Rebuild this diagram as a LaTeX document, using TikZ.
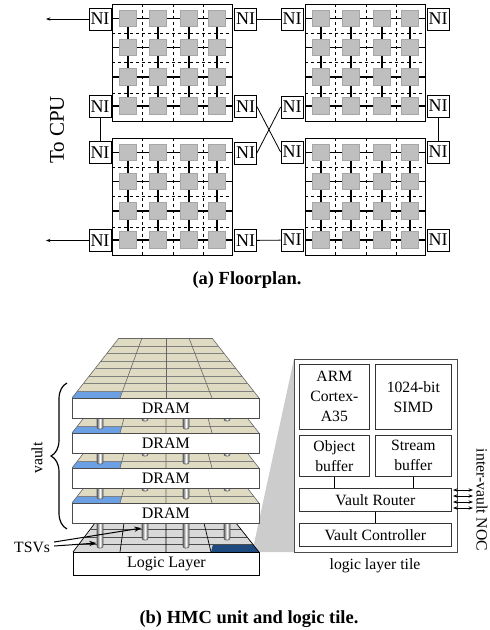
\documentclass[tikz,border=0pt]{standalone}
\usepackage{fontspec}
\setmainfont{Liberation Serif}
\usetikzlibrary{arrows.meta,decorations.pathreplacing}
\definecolor{dietan}{HTML}{DFDBC3}
\definecolor{bankblue}{HTML}{6CA0E4}
\definecolor{tiledark}{HTML}{1F4A80}
\definecolor{shadegray}{HTML}{CCCCCC}
\tikzset{
  ni/.style={draw,line width=0.8pt,fill=white,minimum width=22pt,minimum height=22pt,inner sep=0pt,font=\fontsize{18}{18}\selectfont},
  router/.style={draw=black!35,line width=0.6pt,fill=black!25,minimum size=16.5pt,inner sep=0pt},
  tile/.style={draw,line width=0.9pt,fill=white,minimum width=120pt,minimum height=117pt,inner sep=0pt},
  layer/.style={draw=black!70,line width=0.9pt,fill=white,minimum width=187pt,minimum height=20pt,inner sep=0pt,font=\fontsize{16}{16}\selectfont},
  block/.style={draw=black!80,line width=0.7pt,inner sep=0pt,align=center,font=\fontsize{15.7}{20}\selectfont},
  link/.style={line width=0.8pt},
  tsv/.style={draw=black!65,line width=0.6pt,left color=black!60,right color=black!60,middle color=white,rounded corners=2pt},
  noc/.style={{Stealth[length=4.5pt]}-{Stealth[length=4.5pt]},line width=0.9pt},
  lbl/.style={inner sep=0pt,font=\fontsize{15.7}{18}\selectfont},
  captext/.style={inner sep=0pt,font=\fontsize{18.5}{20}\selectfont\bfseries}
}
% one tile of the floorplan, #1 = left edge, #2 = top edge
\newcommand{\meshtile}[3]{
  \node[tile,anchor=north west] (#3) at (#1,#2) {};
  \begin{scope}[shift={(#1,#2)}]
    \foreach \dx/\w in {30/0.7pt,61/1pt,91/0.7pt} \draw[dashed,line width=\w] (\dx,0) -- (\dx,117);
    \foreach \dy in {29,58,89} \draw[dashed,line width=0.8pt] (0,\dy) -- (120,\dy);
    \foreach \dy in {14.5,43.5,73,102} \draw[line width=1.1pt] (0,\dy) -- (120,\dy);
    \foreach \dx in {16,46,77,105} \draw[line width=1.1pt] (\dx,14.5) -- (\dx,102);
    \foreach \dx in {16,46,77,105} \foreach \dy in {14.5,43.5,73,102}
      \node[router] at (\dx,\dy) {};
  \end{scope}
}
\begin{document}
\begin{tikzpicture}[x=1pt,y=-1pt]
\useasboundingbox (0,0) rectangle (490,630);
% (a)
\meshtile{112}{4}{tileA}
\meshtile{305}{4}{tileB}
\meshtile{112}{138}{tileC}
\meshtile{305}{138}{tileD}
\foreach \name/\px/\py in {na/100/19,nb/245.5/19,nc/100/106.5,nd/245.5/106.5,ne/100/152.5,nf/245.5/153,ng/100/240.5,nh/245.5/240.5,
  ni/292/19,nj/438/19,nk/292/107,nl/438/106,nm/292/152,nn/438/152,no/292/240,np/438/240}
  \node[ni] (\name) at (\px,\py) {NI};
\coordinate (outa) at (46,19);
\coordinate (outb) at (46,240.5);
\draw[-{Stealth[length=4.5pt]},link] (na) -- (outa);
\draw[-{Stealth[length=4.5pt]},link] (ng) -- (outb);
\draw[link] (nc) -- (ne);
\draw[link] (nl) -- (nn);
\draw[link] (nb) -- (ni);
\draw[link] (nh) -- (no);
\draw[link] (nd.east) -- (nm.west);
\draw[link] (nf.east) -- (nk.west);
\node[rotate=90,inner sep=0pt,font=\fontsize{21}{21}\selectfont] (cpu) at (57,130) {To CPU};
\node[captext] (capa) at (247,280) {(a) Floorplan.};
% (b)
\fill[shadegray] (254,544) -- (294,359) -- (294,552) -- (259,552) -- cycle;
% top layer of the stack
\fill[dietan] (119,338) -- (212,338) -- (259,398) -- (72,398) -- cycle;
\fill[bankblue] (77.5,391) -- (122,391) -- (120,398) -- (72,398) -- cycle;
\foreach \ly/\lx in {346/6.3,353/11.8,361/18,368/23.5,376/29.8,383/35.2,391/41.5}
  \draw[black!50,line width=0.7pt] (119-\lx,\ly) -- (212+\lx,\ly);
\foreach \ta/\tb in {119/72,142/120,166/166,189/212,212/259}
  \draw[black!60,line width=0.6pt] (\ta,338) -- (\tb,398);
\draw[black!60,line width=0.8pt] (119,338) -- (212,338);
% the layers under it
\foreach \by in {433,468,503}{
  \fill[dietan] (83.7,\by-15) -- (247.3,\by-15) -- (259,\by) -- (72,\by) -- cycle;
  \fill[bankblue] (77.5,\by-7) -- (122,\by-7) -- (120,\by) -- (72,\by) -- cycle;
  \draw[black!50,line width=0.7pt] (77.5,\by-7) -- (253.5,\by-7);
  \draw[black!60,line width=0.6pt] (83.7,\by-15) -- (72,\by) (124,\by-15) -- (120,\by)
    (166,\by-15) -- (166,\by) (208,\by-15) -- (212,\by) (247.3,\by-15) -- (259,\by);
  \draw[tsv] (97,\by-17) rectangle (103,\by-4);
  \draw[tsv] (183,\by-17) rectangle (189,\by-4);
  \draw[tsv] (142,\by-17) rectangle (148,\by-12);
  \draw[tsv] (224,\by-17) rectangle (230,\by-12);
}
% logic plane
\fill[black!15] (95,523) -- (236,523) -- (259,552) -- (73,552) -- cycle;
\fill[tiledark] (213,544) -- (253,544) -- (259,552) -- (211,552) -- cycle;
\foreach \ly/\lx in {529/18,537/12,544/6}
  \draw[black!70,line width=0.6pt] (73+\lx,\ly) -- (259-\lx,\ly);
\draw[line width=0.7pt] (95,523) -- (73,552) (124,523) -- (120,552) (166,523) -- (166,552) (204,523) -- (211,552) (236,523) -- (259,552);
\draw[tsv] (97,520) rectangle (103,548);
\node[inner sep=0pt,minimum size=1pt] (tsva) at (97,543) {};
\draw[tsv] (142,520) rectangle (148,540);
\node[inner sep=0pt,minimum size=1pt] (tsvb) at (142,528) {};
\draw[tsv] (183,520) rectangle (189,548);
\draw[tsv] (224,520) rectangle (230,540);
\node[layer,anchor=north west] (dramA) at (72,398) {DRAM};
\node[layer,anchor=north west] (dramB) at (72,433) {DRAM};
\node[layer,anchor=north west] (dramC) at (72,468) {DRAM};
\node[layer,anchor=north west] (dramD) at (72,503) {DRAM};
\node[layer,draw=black,anchor=north west,minimum width=186pt,minimum height=23pt] (logic) at (73,552) {Logic Layer};
\coordinate (bracelo) at (67,529);
\coordinate (bracehi) at (67,383);
\draw[decorate,decoration={brace,amplitude=16pt,aspect=0.5},line width=1.2pt] (bracelo) -- (bracehi);
\node[lbl,rotate=90] (vault) at (37,458) {vault};
\node[lbl,anchor=west] (tsvs) at (14,547) {TSVs};
\draw[-{Stealth[length=7pt]},line width=1pt] (tsvs.east) ++(4,-5) coordinate (tsvsa) (tsvsa) -- (tsvb);
\draw[-{Stealth[length=7pt]},line width=1pt] (tsvs.east) ++(4,-1) coordinate (tsvsb) (tsvsb) -- (tsva);
% logic tile
\node[draw=black!70,line width=0.9pt,fill=white,anchor=north west,minimum width=163pt,minimum height=193pt,inner sep=0pt] (tilebox) at (294,359) {};
\node[block,anchor=north west,minimum width=70pt,minimum height=65pt] (arm) at (299,364) {ARM\\Cortex-\\A35};
\node[block,anchor=north west,minimum width=76pt,minimum height=65pt] (simd) at (375,364) {1024-bit\\SIMD};
\node[block,anchor=north west,minimum width=70pt,minimum height=41pt] (objbuf) at (299,435) {Object\\buffer};
\node[block,anchor=north west,minimum width=76pt,minimum height=41pt] (strbuf) at (375,435) {Stream\\buffer};
\node[block,anchor=north west,minimum width=152pt,minimum height=23pt] (router) at (299,488) {Vault Router};
\node[block,anchor=north west,minimum width=152pt,minimum height=23pt] (ctrl) at (299,523) {Vault Controller};
\draw[line width=0.7pt] (objbuf) -- (objbuf |- router.north);
\draw[line width=0.7pt] (strbuf) -- (strbuf |- router.north);
\draw[line width=0.7pt] (router) -- (ctrl);
\foreach \py [count=\pn] in {490,496,502,508}{
  \coordinate (nocr\pn) at (453,\py);
  \coordinate (nocl\pn) at (473,\py);
  \draw[noc] (nocr\pn) -- (nocl\pn);
}
\node[lbl,rotate=-90] (noclbl) at (482,500) {inter-vault NOC};
\node[lbl] (tilelbl) at (375,566) {logic layer tile};
\node[captext] (capb) at (249,619) {(b) HMC unit and logic tile.};
\end{tikzpicture}
\end{document}
